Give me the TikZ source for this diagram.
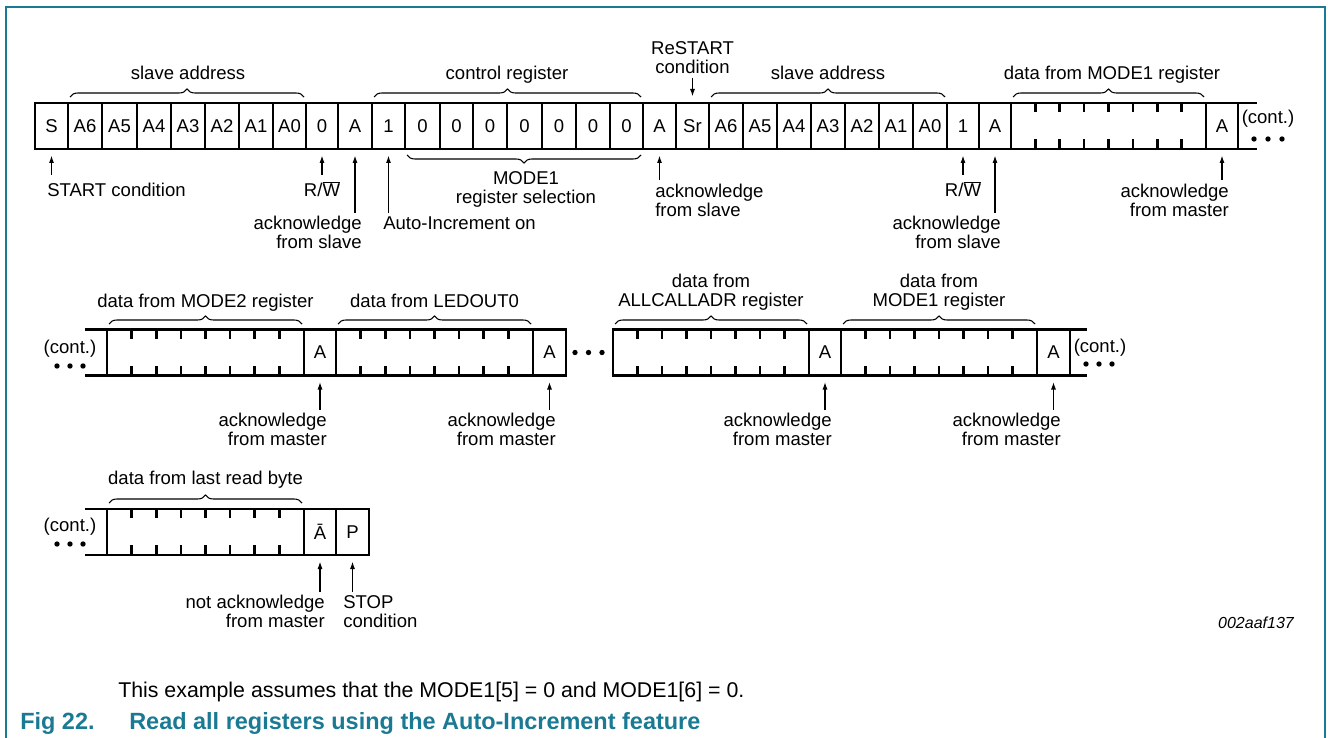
\documentclass[tikz,border=0pt]{standalone}
\usepackage{fontspec}
\setmainfont{Liberation Sans}
\usetikzlibrary{arrows.meta,decorations.pathreplacing,calc}
\definecolor{nxpteal}{HTML}{1B7A93}
\newcommand\lbl{\fontsize{13.9pt}{14.2pt}\selectfont}
\newcommand\cellat[5]{\node[cell, minimum width={(#3-#2)*0.75pt}] (#1) at ({(#2+#3)/2},#4) {#5};}
\newcommand\tickmarks[1]{\foreach \k in {1,...,7}{\draw[tickline] ($(#1.north west)!{\k/8}!(#1.north east)$) -- ++(0,9); \draw[tickline] ($(#1.south west)!{\k/8}!(#1.south east)$) -- ++(0,-10);}}
\begin{document}
\begin{tikzpicture}[x=0.75pt,y=-0.75pt,
  cell/.style={draw, line width=2pt, minimum height=34.5pt, inner sep=0pt, outer sep=0pt, font=\lbl},
  boxline/.style={line width=2pt},
  tickline/.style={line width=2pt},
  lab/.style={inner sep=0pt, align=center, font=\lbl},
  labl/.style={inner sep=0pt, align=left, font=\lbl},
  labr/.style={inner sep=0pt, align=right, font=\lbl},
  arr/.style={line width=0.8pt, -{Latex[length=5.5pt,width=3.8pt]}, shorten >=5pt},
  brc/.style={decorate, decoration={brace, amplitude=6pt}, line width=0.8pt},
  brcm/.style={decorate, decoration={brace, amplitude=6pt, mirror}, line width=0.8pt},
  dot/.style={circle, fill, inner sep=0pt, minimum size=4pt}]
\useasboundingbox (0,0) rectangle (1328,738);
% frame
\draw[nxpteal, line width=1.2pt] (6,738) -- (6,7) -- (1325,7) -- (1325,738);

% ---------------- row 1 ----------------
\cellat{S}{35}{68}{126}{S}
\cellat{aA6}{68}{102}{126}{A6}
\cellat{aA5}{102}{137}{126}{A5}
\cellat{aA4}{137}{171}{126}{A4}
\cellat{aA3}{171}{205}{126}{A3}
\cellat{aA2}{205}{239}{126}{A2}
\cellat{aA1}{239}{273}{126}{A1}
\cellat{aA0}{273}{306}{126}{A0}
\cellat{rw1}{306}{338}{126}{0}
\cellat{ack1}{338}{372}{126}{A}
\cellat{ai}{372}{405}{126}{1}
\cellat{c6}{405}{440}{126}{0}
\cellat{c5}{440}{473}{126}{0}
\cellat{c4}{473}{507}{126}{0}
\cellat{c3}{507}{542}{126}{0}
\cellat{c2}{542}{576}{126}{0}
\cellat{c1}{576}{610}{126}{0}
\cellat{c0}{610}{643}{126}{0}
\cellat{ack2}{643}{676}{126}{A}
\cellat{Sr}{676}{709}{126}{Sr}
\cellat{bA6}{709}{743}{126}{A6}
\cellat{bA5}{743}{777}{126}{A5}
\cellat{bA4}{777}{811}{126}{A4}
\cellat{bA3}{811}{845}{126}{A3}
\cellat{bA2}{845}{879}{126}{A2}
\cellat{bA1}{879}{913}{126}{A1}
\cellat{bA0}{913}{947}{126}{A0}
\cellat{rw2}{947}{979}{126}{1}
\cellat{ack3}{979}{1011}{126}{A}
\cellat{d1}{1011}{1206}{126}{}
\cellat{ack4}{1206}{1238}{126}{A}
\tickmarks{d1}
\draw[boxline] (ack4.north east) -- ++(19,0);
\draw[boxline] (ack4.south east) -- ++(19,0);
\node[lab] (cont1) at (1268,119) {(cont.)};
\node[dot] (p1a) at (1254,139) {};
\node[dot] (p1b) at (1268,139) {};
\node[dot] (p1c) at (1282,139) {};

% braces and titles row 1
\draw[brc] (70,97) -- (304,97);
\draw[brc] (374,97) -- (641,97);
\draw[brc] (711,97) -- (945,97);
\draw[brc] (1013,97) -- (1204,97);
\node[lab, anchor=north] (t1) at (188,66) {slave address};
\node[lab, anchor=north] (t2) at (507,66) {control register};
\node[lab, anchor=north] (t3) at (692.5,41) {ReSTART\\condition};
\node[lab, anchor=north] (t4) at (828,66) {slave address};
\node[lab, anchor=north] (t5) at (1112,66) {data from MODE1 register};
\draw[brcm] (407,155) -- (641,155);
\node[lab, anchor=north] (t6) at (526,171) {MODE1\\register selection};

% arrows row 1
\coordinate (tSr) at (692.5,78);
\draw[arr] (tSr) -- (Sr.north);
\coordinate (tS) at (51.5,175);
\draw[arr] (tS) -- (S.south);
\node[labl, anchor=north west] (lS) at (47,183) {START condition};
\coordinate (trw1) at (322,175);
\draw[arr] (trw1) -- (rw1.south);
\node[lab, anchor=north] (lrw1) at (322,181) {R/$\overline{\hbox{W}}$};
\coordinate (tack1) at (355,213);
\draw[arr] (tack1) -- (ack1.south);
\node[labr, anchor=north east] (lack1) at (362,216) {acknowledge\\from slave};
\coordinate (tai) at (388.5,213);
\draw[arr] (tai) -- (ai.south);
\node[labl, anchor=north west] (lai) at (383,216) {Auto-Increment on};
\coordinate (tack2) at (659.5,180);
\draw[arr] (tack2) -- (ack2.south);
\node[labl, anchor=north west] (lack2) at (655,184) {acknowledge\\from slave};
\coordinate (trw2) at (963,175);
\draw[arr] (trw2) -- (rw2.south);
\node[lab, anchor=north] (lrw2) at (963,181) {R/$\overline{\hbox{W}}$};
\coordinate (tack3) at (995,213);
\draw[arr] (tack3) -- (ack3.south);
\node[labr, anchor=north east] (lack3) at (1001,216) {acknowledge\\from slave};
\coordinate (tack4) at (1222,180);
\draw[arr] (tack4) -- (ack4.south);
\node[labr, anchor=north east] (lack4) at (1229,184) {acknowledge\\from master};

% ---------------- row 2 ----------------
\cellat{e1}{107}{304}{352.5}{}
\cellat{eA1}{304}{336}{352.5}{A}
\cellat{e2}{336}{533}{352.5}{}
\cellat{eA2}{533}{566}{352.5}{A}
\cellat{e3}{613}{809}{352.5}{}
\cellat{eA3}{809}{841}{352.5}{A}
\cellat{e4}{841}{1037}{352.5}{}
\cellat{eA4}{1037}{1070}{352.5}{A}
\tickmarks{e1}\tickmarks{e2}\tickmarks{e3}\tickmarks{e4}
\draw[boxline] (e1.north west) -- ++(-22,0);
\draw[boxline] (e1.south west) -- ++(-22,0);
\draw[boxline] (eA4.north east) -- ++(17,0);
\draw[boxline] (eA4.south east) -- ++(17,0);
\node[lab] (cont2a) at (70,349) {(cont.)};
\node[dot] (p2a) at (57,366) {};
\node[dot] (p2b) at (70,366) {};
\node[dot] (p2c) at (83,366) {};
\node[dot] (p2d) at (575,352.5) {};
\node[dot] (p2e) at (588.5,352.5) {};
\node[dot] (p2f) at (602,352.5) {};
\node[lab] (cont2b) at (1100,348) {(cont.)};
\node[dot] (p2g) at (1086,364) {};
\node[dot] (p2h) at (1099,364) {};
\node[dot] (p2i) at (1112,364) {};

\draw[brc] (109,324) -- (302,324);
\draw[brc] (338,324) -- (531,324);
\draw[brc] (615,324) -- (807,324);
\draw[brc] (843,324) -- (1035,324);
\node[lab, anchor=north] (u1) at (205.5,294) {data from MODE2 register};
\node[lab, anchor=north] (u2) at (434.5,294) {data from LEDOUT0};
\node[lab, anchor=north] (u3) at (711,274) {data from\\ALLCALLADR register};
\node[lab, anchor=north] (u4) at (939,274) {data from\\MODE1 register};

\coordinate (teA1) at (320,410);
\draw[arr] (teA1) -- (eA1.south);
\node[labr, anchor=north east] (leA1) at (327,413) {acknowledge\\from master};
\coordinate (teA2) at (549.5,410);
\draw[arr] (teA2) -- (eA2.south);
\node[labr, anchor=north east] (leA2) at (556,413) {acknowledge\\from master};
\coordinate (teA3) at (825,410);
\draw[arr] (teA3) -- (eA3.south);
\node[labr, anchor=north east] (leA3) at (832,413) {acknowledge\\from master};
\coordinate (teA4) at (1053.5,410);
\draw[arr] (teA4) -- (eA4.south);
\node[labr, anchor=north east] (leA4) at (1061,413) {acknowledge\\from master};

% ---------------- row 3 ----------------
\cellat{f1}{107}{304}{532}{}
\cellat{fA}{304}{336}{532}{Ā}
\cellat{fP}{336}{369}{532}{P}
\tickmarks{f1}
\draw[boxline] (f1.north west) -- ++(-22,0);
\draw[boxline] (f1.south west) -- ++(-22,0);
\node[lab] (cont3) at (70,527) {(cont.)};
\node[dot] (p3a) at (57,544) {};
\node[dot] (p3b) at (70,544) {};
\node[dot] (p3c) at (83,544) {};
\draw[brc] (109,503) -- (302,503);
\node[lab, anchor=north] (v1) at (205.5,471) {data from last read byte};
\coordinate (tfA) at (320,592);
\draw[arr] (tfA) -- (fA.south);
\node[labr, anchor=north east] (lfA) at (325,595) {not acknowledge\\from master};
\coordinate (tfP) at (352.5,592);
\draw[arr] (tfP) -- (fP.south);
\node[labl, anchor=north west] (lfP) at (343,595) {STOP\\condition};

% ---------------- footer ----------------
\node[inner sep=0pt, font=\fontsize{12pt}{14pt}\selectfont\itshape] (code) at (1256,623) {002aaf137};
\node[inner sep=0pt, anchor=west, font=\fontsize{16pt}{18pt}\selectfont] (note) at (118,692) {This example assumes that the MODE1[5] = 0 and MODE1[6] = 0.};
\node[inner sep=0pt, anchor=west, text=nxpteal, font=\fontsize{17.6pt}{19pt}\selectfont\bfseries] (fig) at (20,723) {Fig 22.};
\node[inner sep=0pt, anchor=west, text=nxpteal, font=\fontsize{17.6pt}{19pt}\selectfont\bfseries] (figt) at (129,723) {Read all registers using the Auto-Increment feature};
\end{tikzpicture}
\end{document}
